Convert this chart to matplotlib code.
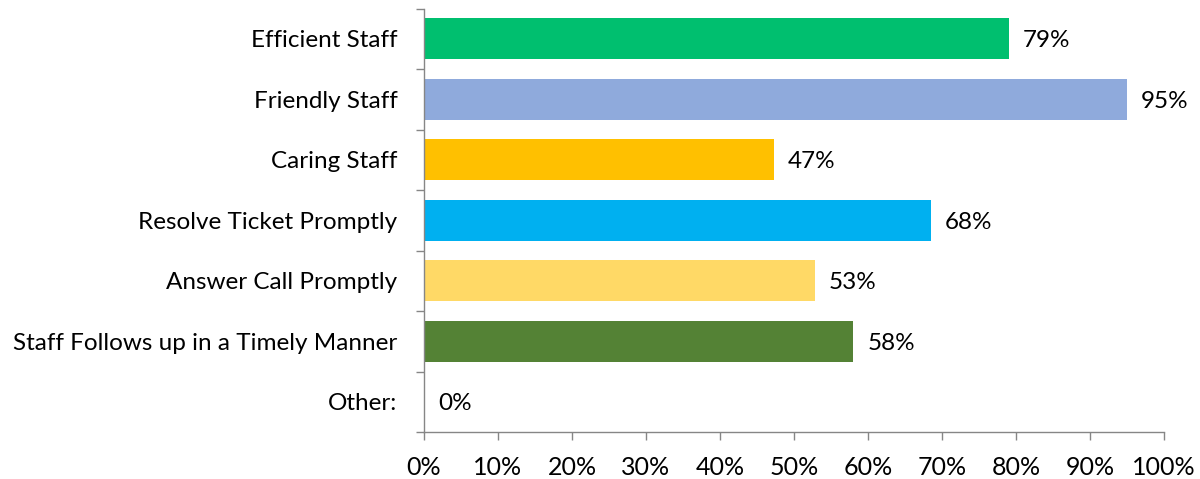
import matplotlib.pyplot as plt
import numpy as np

categories = ['Efficient Staff', 'Friendly Staff', 'Caring Staff', 'Resolve Ticket Promptly',
              'Answer Call Promptly', 'Staff Follows up in a Timely Manner', 'Other:']
values = [79, 95, 47.3, 68.5, 52.8, 58, 0]
labels = ['79%', '95%', '47%', '68%', '53%', '58%', '0%']
colors = ['#00BF6F', '#8FAADC', '#FFC000', '#00B0F0', '#FFD966', '#548235', '#A5A5A5']
xticks = [0, 10, 20, 30, 40, 50, 60, 70, 80, 90, 100]

plt.rcParams['font.family'] = ['Lato', 'DejaVu Sans']

fig = plt.figure(figsize=(12, 4.79), dpi=100)
ax = fig.add_axes([0.3533, 0.098, 0.6167, 0.884])

y = np.arange(len(categories))
ax.barh(y, values, height=0.68, color=colors)
for yi, v, lab in zip(y, values, labels):
    ax.text(v + 1.9, yi + 0.03, lab, va='center', ha='left', fontsize=17.5, color='#000000')

ax.set_xlim(0, 100)
ax.set_ylim(len(categories) - 0.5, -0.5)
ax.set_xticks(xticks)
ax.set_xticklabels([str(t) + '%' for t in xticks], fontsize=18)
ax.set_yticks(y)
ax.set_yticklabels(categories, fontsize=17.5)
ax.set_yticks(np.arange(-0.5, len(categories), 1), minor=True)

for s in ['top', 'right']:
    ax.spines[s].set_visible(False)
for s in ['left', 'bottom']:
    ax.spines[s].set_color('#868686')
    ax.spines[s].set_linewidth(1)

ax.tick_params(axis='y', which='major', length=0, pad=19)
ax.tick_params(axis='y', which='minor', length=6, color='#868686', width=1)
ax.tick_params(axis='x', which='major', length=6, color='#868686', width=1, pad=11)

fig.savefig('out.png', dpi=100)
